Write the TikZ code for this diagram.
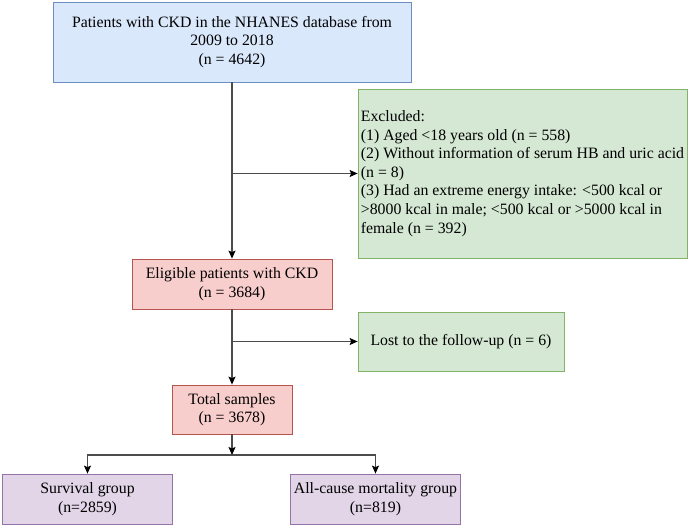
\documentclass[tikz,border=0pt]{standalone}
\usepackage{fontspec}
\setmainfont{Liberation Serif}
\usetikzlibrary{arrows.meta}
\definecolor{blueF}{HTML}{DAE8FC}\definecolor{blueD}{HTML}{6C8EBF}
\definecolor{greenF}{HTML}{D5E8D4}\definecolor{greenD}{HTML}{82B366}
\definecolor{redF}{HTML}{F8CECC}\definecolor{redD}{HTML}{B85450}
\definecolor{violetF}{HTML}{E1D5E7}\definecolor{violetD}{HTML}{9673A6}
\begin{document}
\begin{tikzpicture}[x=1pt,y=-1pt,
  every node/.style={align=center,inner sep=2pt,line width=0.8pt,
    font=\fontsize{15.8}{18.6}\selectfont},
  bluebox/.style={draw=blueD,fill=blueF},
  greenbox/.style={draw=greenD,fill=greenF},
  redbox/.style={draw=redD,fill=redF},
  violetbox/.style={draw=violetD,fill=violetF,minimum width=170pt,minimum height=50pt},
  flow/.style={draw=black!70,line width=1.2pt,-{Stealth[length=8pt,width=7pt,inset=1.5pt,black]}}]
\useasboundingbox (0,0) rectangle (690,527);
\node[bluebox,minimum width=358pt,minimum height=80pt] (N) at (232,42)
  {Patients with CKD in the NHANES database from\\2009 to 2018\\(n = 4642)};
\node[greenbox,align=left,inner xsep=1pt,minimum width=329pt,minimum height=169pt] (X) at (522.5,173.5)
  {Excluded:\\
   (1) Aged <18 years old (n = 558)\\
   (2) Without information of serum HB and uric acid\\
   (n = 8)\\
   (3) Had an extreme energy intake: <500 kcal or\\
   >8000 kcal in male; <500 kcal or >5000 kcal in\\
   female (n = 392)};
\node[redbox,minimum width=200pt,minimum height=50pt] (E) at (232,284)
  {Eligible patients with CKD\\(n = 3684)};
\node[greenbox,minimum width=206pt,minimum height=59pt] (L) at (461,341.5)
  {Lost to the follow-up (n = 6)};
\node[redbox,minimum width=120pt,minimum height=49pt] (T) at (232,409.5)
  {Total samples\\(n = 3678)};
\node[violetbox] (S) at (87.5,499) {Survival group\\(n=2859)};
\node[violetbox] (M) at (375.5,499) {All-cause mortality group\\(n=819)};
\coordinate (x1) at (N.south |- X.west);
\coordinate (x2) at (E.south |- L.west);
\coordinate (j) at (232,455);
\draw[flow] (N) -- (E);
\draw[flow] (x1) -- (X);
\draw[flow] (E) -- (T);
\draw[flow] (x2) -- (L);
\draw[flow] (T) -- (j);
\draw[flow] (j) -| (S.north);
\draw[flow] (j) -| (M.north);
\end{tikzpicture}
\end{document}
